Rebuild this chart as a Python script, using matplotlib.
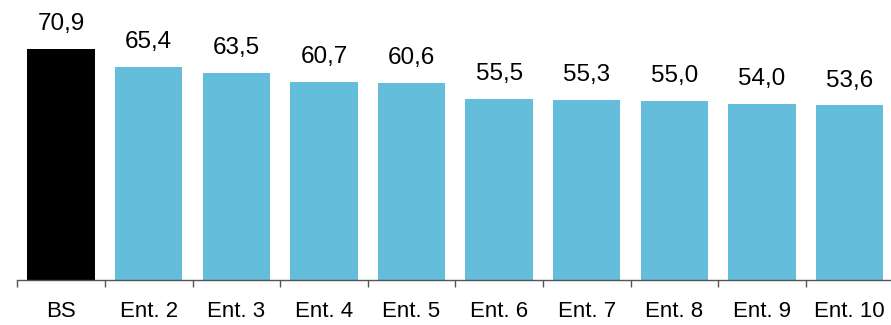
import numpy as np
import matplotlib.pyplot as plt

categories = ["BS", "Ent. 2", "Ent. 3", "Ent. 4", "Ent. 5", "Ent. 6", "Ent. 7", "Ent. 8", "Ent. 9", "Ent. 10"]
values = [70.9, 65.4, 63.5, 60.7, 60.6, 55.5, 55.3, 55.0, 54.0, 53.6]
labels = ["70,9", "65,4", "63,5", "60,7", "60,6", "55,5", "55,3", "55,0", "54,0", "53,6"]

plt.rcParams['font.family'] = ['Liberation Sans', 'DejaVu Sans']

fig = plt.figure(figsize=(8.91, 3.25), dpi=100)
ax = fig.add_axes([17.3 / 891, 45 / 325, 876 / 891, 280 / 325])

x = np.arange(len(categories))
colors = ['#000000'] + ['#63BDDB'] * (len(categories) - 1)
ax.bar(x, values, width=0.77, color=colors)

# value labels above bars
for xi, v, lab in zip(x, values, labels):
    ax.annotate(lab, (xi, v), xytext=(0, 10), textcoords='offset points',
                ha='center', va='bottom', fontsize=17.5)

ax.set_xlim(-0.5, len(categories) - 0.5)
ax.set_ylim(0, 86)

for s in ['top', 'right', 'left']:
    ax.spines[s].set_visible(False)
ax.spines['bottom'].set_color('#555555')
ax.spines['bottom'].set_linewidth(1.0)
ax.set_yticks([])

ax.set_xticks(x)
ax.set_xticklabels(categories, fontsize=16)
ax.set_xticks(np.arange(len(categories) + 1) - 0.5, minor=True)
ax.tick_params(axis='x', which='major', length=0, pad=15)
ax.tick_params(axis='x', which='minor', length=5, color='#555555', width=1.0)

fig.savefig('out.png', dpi=100)
